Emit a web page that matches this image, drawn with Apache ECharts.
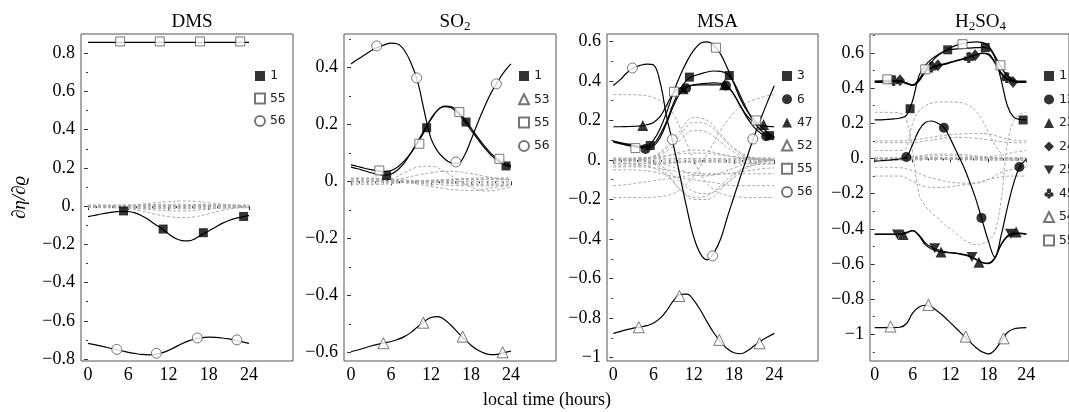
<!DOCTYPE html>
<html><head><meta charset="utf-8">
<script src="https://cdn.jsdelivr.net/npm/echarts@6/dist/echarts.min.js"></script>
<style>html,body{margin:0;padding:0;background:#fff}#c{width:1069px;height:412px}</style>
</head><body><div id="c"></div>
<script>
// ---------- shared x values ----------
const hours  = [0,1,2,3,4,5,6,7,8,9,10,11,12,13,14,15,16,17,18,19,20,21,22,23,24];
const hours2 = [0,2,4,6,8,10,12,14,16,18,20,22,24];
const xMajor = [0,6,12,18,24];
const xMinor = [1.2,2.4,3.6,4.8,7.2,8.4,9.6,10.8,13.2,14.4,15.6,16.8,19.2,20.4,21.6,22.8];

// ---------- DMS ----------
const dms_1  = [-0.055,-0.048,-0.041,-0.035,-0.030,-0.027,-0.028,-0.035,-0.05,-0.07,-0.095,-0.118,-0.145,-0.168,-0.18,-0.182,-0.17,-0.148,-0.13,-0.11,-0.09,-0.075,-0.064,-0.056,-0.05];
const dms_1_mx = [5.3,11.2,17.2,23.2], dms_1_my = [-0.025,-0.12,-0.139,-0.054];
const dms_55 = [0.857,0.857,0.857,0.857,0.857,0.857,0.857,0.857,0.857,0.857,0.857,0.857,0.857,0.857,0.857,0.857,0.857,0.857,0.857,0.857,0.857,0.857,0.857,0.857,0.857];
const dms_55_mx = [4.8,10.7,16.7,22.7], dms_55_my = [0.862,0.862,0.862,0.862];
const dms_56 = [-0.718,-0.725,-0.733,-0.741,-0.749,-0.757,-0.765,-0.771,-0.776,-0.778,-0.776,-0.768,-0.755,-0.738,-0.72,-0.705,-0.694,-0.688,-0.686,-0.687,-0.69,-0.695,-0.702,-0.71,-0.718];
const dms_56_mx = [4.3,10.2,16.3,22.2], dms_56_my = [-0.75,-0.77,-0.69,-0.70];
const dms_greys = [
 [0.002,0.002,0.003,0.005,0.01,0.018,0.024,0.027,0.025,0.018,0.01,0.005,0.003],
 [-0.003,-0.004,-0.006,-0.012,-0.025,-0.042,-0.055,-0.06,-0.055,-0.04,-0.022,-0.01,-0.005],
 [-0.002,-0.003,-0.005,-0.008,-0.014,-0.02,-0.024,-0.025,-0.022,-0.016,-0.01,-0.005,-0.003],
 [0.006,0.006,0.006,0.007,0.008,0.009,0.01,0.01,0.009,0.008,0.007,0.006,0.006],
 [-0.008,-0.008,-0.009,-0.01,-0.011,-0.012,-0.013,-0.013,-0.012,-0.011,-0.01,-0.009,-0.008],
 [0.003,0.003,0.003,0.003,0.004,0.004,0.004,0.004,0.004,0.003,0.003,0.003,0.003],
 [-0.004,-0.004,-0.004,-0.005,-0.005,-0.006,-0.006,-0.006,-0.006,-0.005,-0.005,-0.004,-0.004],
 [0,0,0,0,0,0,0,0,0,0,0,0,0],
 [0.001,0.001,0.001,0,-0.001,-0.002,-0.002,-0.002,-0.001,0,0.001,0.001,0.001]
];

// ---------- SO2 ----------
const so2_1  = [0.05,0.044,0.037,0.03,0.025,0.022,0.025,0.04,0.065,0.1,0.14,0.18,0.22,0.25,0.262,0.258,0.24,0.212,0.18,0.148,0.118,0.092,0.072,0.058,0.05];
const so2_1_mx = [5.35,11.35,17.25,23.25], so2_1_my = [0.02,0.188,0.208,0.054];
const so2_53 = [-0.598,-0.592,-0.585,-0.578,-0.572,-0.567,-0.562,-0.555,-0.545,-0.53,-0.51,-0.492,-0.478,-0.475,-0.485,-0.505,-0.53,-0.553,-0.575,-0.592,-0.603,-0.608,-0.607,-0.601,-0.596];
const so2_53_mx = [4.85,10.85,16.75,22.75], so2_53_my = [-0.568,-0.496,-0.545,-0.60];
const so2_55 = [0.058,0.052,0.046,0.041,0.037,0.035,0.038,0.05,0.072,0.1,0.135,0.175,0.218,0.25,0.264,0.262,0.246,0.22,0.188,0.155,0.124,0.098,0.078,0.063,0.055];
const so2_55_mx = [4.25,10.25,16.25,22.25], so2_55_my = [0.038,0.132,0.243,0.079];
const so2_56 = [0.412,0.428,0.443,0.458,0.47,0.479,0.485,0.482,0.46,0.415,0.35,0.245,0.15,0.105,0.08,0.065,0.063,0.09,0.145,0.205,0.26,0.31,0.35,0.385,0.412];
const so2_56_mx = [3.85,9.85,15.75,21.8], so2_56_my = [0.475,0.363,0.068,0.342];
const so2_greys = [
 [0,0,0.001,0.008,0.03,0.05,0.053,0.035,0.005,-0.02,-0.034,-0.03,-0.02],
 [0,0,0.001,0.004,0.012,0.022,0.03,0.035,0.034,0.027,0.018,0.01,0.005],
 [0,0,0,-0.001,-0.004,-0.01,-0.018,-0.025,-0.03,-0.032,-0.028,-0.02,-0.015],
 [0,0,0,0,-0.002,-0.006,-0.01,-0.013,-0.015,-0.016,-0.016,-0.015,-0.013],
 [0.012,0.012,0.011,0.008,0.004,0.003,0.004,0.006,0.009,0.011,0.012,0.012,0.012],
 [-0.012,-0.012,-0.011,-0.008,-0.004,-0.003,-0.004,-0.006,-0.009,-0.011,-0.012,-0.012,-0.012],
 [0.006,0.006,0.006,0.004,0.002,0.002,0.002,0.003,0.005,0.006,0.006,0.006,0.006],
 [-0.006,-0.006,-0.006,-0.004,-0.002,-0.002,-0.002,-0.003,-0.005,-0.006,-0.006,-0.006,-0.006],
 [0,0,0,0,0,0,0,0,0,0,0,0,0],
 [0.009,0.009,0.008,0.006,0.003,0.002,0.003,0.004,0.007,0.008,0.009,0.009,0.009]
];

// ---------- MSA ----------
const msa_3  = [0.095,0.088,0.081,0.075,0.07,0.07,0.08,0.13,0.2,0.29,0.36,0.405,0.425,0.435,0.445,0.45,0.448,0.435,0.39,0.32,0.25,0.19,0.15,0.125,0.118];
const msa_3_mx = [5.5,11.35,17.3,23.3], msa_3_my = [0.073,0.419,0.427,0.123];
const msa_6  = [0.09,0.083,0.076,0.07,0.063,0.062,0.07,0.115,0.19,0.275,0.34,0.368,0.38,0.385,0.388,0.39,0.388,0.375,0.33,0.27,0.21,0.165,0.135,0.115,0.11];
const msa_6_mx = [4.8,10.85,16.8,22.8], msa_6_my = [0.056,0.363,0.377,0.12];
const msa_47 = [0.168,0.168,0.169,0.17,0.172,0.178,0.19,0.22,0.28,0.34,0.365,0.375,0.378,0.38,0.38,0.38,0.38,0.37,0.33,0.27,0.22,0.19,0.175,0.17,0.168];
const msa_47_mx = [4.4,10.4,16.6,22.4], msa_47_my = [0.174,0.36,0.38,0.179];
const msa_52 = [-0.877,-0.868,-0.858,-0.85,-0.845,-0.838,-0.825,-0.8,-0.76,-0.71,-0.68,-0.678,-0.71,-0.76,-0.82,-0.875,-0.92,-0.955,-0.975,-0.98,-0.965,-0.94,-0.915,-0.895,-0.877];
const msa_52_mx = [3.8,9.85,15.8,21.8], msa_52_my = [-0.846,-0.688,-0.91,-0.927];
const msa_55 = [0.095,0.085,0.075,0.067,0.063,0.068,0.1,0.16,0.245,0.345,0.43,0.5,0.555,0.59,0.597,0.58,0.535,0.465,0.385,0.305,0.245,0.205,0.17,0.14,0.115];
const msa_55_mx = [3.3,9.05,15.3,21.3], msa_55_my = [0.06,0.345,0.568,0.2];
const msa_56 = [0.377,0.405,0.44,0.465,0.478,0.485,0.48,0.39,0.21,0.07,-0.09,-0.25,-0.39,-0.475,-0.505,-0.47,-0.4,-0.29,-0.185,-0.08,0.02,0.12,0.21,0.295,0.375];
const msa_56_mx = [2.85,8.8,14.8,20.8], msa_56_my = [0.465,0.103,-0.485,0.106];
const msa_greyA = [0.33,0.33,0.33,0.33,0.328,0.325,0.315,0.3,0.28,0.23,0.16,0.08,0.0,-0.07,-0.12,-0.15,-0.17,-0.18,-0.185,-0.188,-0.19,-0.19,-0.19,-0.19,-0.19];
const msa_greyB = [-0.19,-0.19,-0.19,-0.19,-0.19,-0.19,-0.188,-0.185,-0.18,-0.17,-0.15,-0.12,-0.08,-0.03,0.03,0.09,0.15,0.2,0.24,0.27,0.29,0.305,0.315,0.325,0.33];
const msa_greys = [
 [0,0,0.005,0.02,0.07,0.15,0.215,0.2,0.13,0.06,0.02,0.005,0],
 [0,0,0.004,0.015,0.06,0.13,0.19,0.18,0.12,0.055,0.018,0.005,0],
 [0,0,0.003,0.012,0.045,0.1,0.15,0.14,0.09,0.04,0.012,0.003,0],
 [0,0,0.002,0.008,0.02,0.04,0.05,0.045,0.03,0.015,0.005,0.001,0],
 [0.01,0.01,0.012,0.015,0.022,0.03,0.035,0.033,0.025,0.017,0.012,0.01,0.01],
 [0,0,-0.005,-0.02,-0.07,-0.15,-0.2,-0.2,-0.15,-0.08,-0.03,-0.008,0],
 [-0.02,-0.02,-0.025,-0.04,-0.08,-0.15,-0.19,-0.18,-0.13,-0.07,-0.035,-0.022,-0.02],
 [0,0,-0.003,-0.015,-0.05,-0.11,-0.16,-0.17,-0.14,-0.09,-0.04,-0.012,0],
 [0,0,-0.002,-0.008,-0.025,-0.05,-0.075,-0.08,-0.065,-0.04,-0.018,-0.005,0],
 [-0.13,-0.125,-0.115,-0.105,-0.095,-0.085,-0.078,-0.075,-0.072,-0.065,-0.055,-0.045,-0.04],
 [-0.05,-0.05,-0.052,-0.06,-0.075,-0.09,-0.1,-0.11,-0.12,-0.13,-0.13,-0.13,-0.13],
 [-0.035,-0.035,-0.035,-0.04,-0.05,-0.06,-0.065,-0.07,-0.07,-0.07,-0.07,-0.07,-0.07],
 [-0.03,-0.03,-0.028,-0.024,-0.018,-0.012,-0.006,-0.002,0,0,0,0,0],
 [0,0,0,0,0,0,0,0,0,0,0,0,0],
 [0.008,0.008,0.008,0.008,0.008,0.008,0.008,0.008,0.008,0.008,0.008,0.008,0.008],
 [-0.01,-0.01,-0.01,-0.01,-0.01,-0.01,-0.01,-0.01,-0.01,-0.01,-0.01,-0.01,-0.01],
 [-0.018,-0.018,-0.018,-0.017,-0.015,-0.012,-0.01,-0.01,-0.012,-0.015,-0.017,-0.018,-0.018]
];

// ---------- H2SO4 ----------
const h2_1  = [0.219,0.22,0.222,0.225,0.23,0.245,0.33,0.47,0.53,0.565,0.59,0.61,0.62,0.623,0.626,0.628,0.63,0.632,0.625,0.575,0.45,0.3,0.235,0.222,0.22];
const h2_1_mx = [5.6,11.55,17.5,23.5], h2_1_my = [0.283,0.618,0.631,0.219];
const h2_12 = [-0.015,-0.013,-0.01,-0.007,-0.003,0.007,0.08,0.16,0.205,0.213,0.2,0.175,0.11,0.035,-0.04,-0.13,-0.23,-0.35,-0.47,-0.56,-0.44,-0.28,-0.14,-0.045,-0.005];
const h2_12_mx = [5,10.95,16.9,22.9], h2_12_my = [0.008,0.175,-0.338,-0.049];
const h2_23 = [-0.43,-0.43,-0.43,-0.43,-0.432,-0.425,-0.41,-0.44,-0.49,-0.515,-0.528,-0.535,-0.537,-0.54,-0.545,-0.555,-0.575,-0.593,-0.598,-0.57,-0.49,-0.44,-0.425,-0.425,-0.43];
const h2_23_mx = [4.5,10.5,16.5,22.4], h2_23_my = [-0.433,-0.532,-0.59,-0.418];
const h2_24 = [0.432,0.433,0.435,0.438,0.44,0.43,0.415,0.44,0.49,0.515,0.528,0.535,0.545,0.555,0.565,0.578,0.59,0.6,0.595,0.55,0.48,0.448,0.436,0.432,0.432];
const h2_24_mx = [4,10,15.9,21.9], h2_24_my = [0.445,0.53,0.587,0.435];
const h2_25 = [-0.432,-0.432,-0.432,-0.432,-0.43,-0.42,-0.41,-0.435,-0.48,-0.505,-0.52,-0.53,-0.535,-0.54,-0.548,-0.558,-0.572,-0.59,-0.595,-0.565,-0.49,-0.445,-0.43,-0.428,-0.43];
const h2_25_mx = [3.6,9.5,15.4,21.5], h2_25_my = [-0.433,-0.51,-0.561,-0.428];
const h2_45 = [0.438,0.438,0.44,0.443,0.442,0.43,0.418,0.445,0.495,0.52,0.53,0.538,0.548,0.558,0.567,0.576,0.588,0.598,0.59,0.545,0.49,0.455,0.44,0.436,0.436];
const h2_45_mx = [3,9,14.9,20.9], h2_45_my = [0.443,0.52,0.574,0.46];
const h2_54 = [-0.962,-0.962,-0.962,-0.962,-0.96,-0.94,-0.88,-0.845,-0.835,-0.845,-0.87,-0.9,-0.935,-0.97,-1.005,-1.04,-1.075,-1.1,-1.112,-1.09,-1.04,-0.99,-0.97,-0.964,-0.962];
const h2_54_mx = [2.5,8.5,14.4,20.4], h2_54_my = [-0.956,-0.833,-1.013,-1.023];
const h2_55 = [0.44,0.442,0.445,0.445,0.44,0.425,0.418,0.45,0.505,0.55,0.585,0.61,0.63,0.645,0.652,0.66,0.663,0.66,0.64,0.585,0.52,0.47,0.445,0.44,0.44];
const h2_55_mx = [2,8,13.9,19.9], h2_55_my = [0.45,0.507,0.65,0.53];
const h2_greyG1 = [0.262,0.262,0.262,0.262,0.258,0.22,0.04,-0.2,-0.27,-0.31,-0.34,-0.375,-0.4,-0.43,-0.46,-0.48,-0.49,-0.485,-0.47,-0.42,-0.24,0.08,0.215,0.25,0.262];
const h2_greyG2 = [0.045,0.045,0.045,0.045,0.046,0.06,0.2,0.27,0.3,0.315,0.32,0.322,0.322,0.32,0.315,0.3,0.27,0.22,0.15,0.08,0.03,0.0,-0.01,-0.01,-0.01];
const h2_greys = [
 [0.1,0.1,0.1,0.105,0.115,0.125,0.135,0.14,0.142,0.14,0.12,0.105,0.1],
 [0.09,0.09,0.09,0.09,0.1,0.11,0.12,0.12,0.115,0.105,0.095,0.09,0.09],
 [-0.05,-0.05,-0.052,-0.07,-0.1,-0.12,-0.135,-0.14,-0.14,-0.12,-0.08,-0.06,-0.05],
 [-0.1,-0.1,-0.1,-0.13,-0.16,-0.165,-0.16,-0.15,-0.14,-0.12,-0.105,-0.1,-0.1],
 [0,0,0,0,0,0,0,0,0.005,0.01,0.02,0.035,0.045],
 [0,0,0.002,0.01,0.02,0.025,0.025,0.022,0.015,0.006,0.002,0,0],
 [0,0,0.001,0.006,0.012,0.015,0.016,0.014,0.01,0.004,0.001,0,0],
 [0.005,0.005,0.005,0.005,0.005,0.005,0.005,0.005,0.005,0.005,0.005,0.005,0.005],
 [-0.005,-0.005,-0.005,-0.005,-0.005,-0.005,-0.005,-0.005,-0.005,-0.005,-0.005,-0.005,-0.005],
 [0,0,0,0,0,0,0,0,0,0,0,0,0],
 [-0.01,-0.01,-0.01,-0.008,-0.006,-0.005,-0.005,-0.006,-0.008,-0.01,-0.01,-0.01,-0.01]
];

// ---------- layout / style (not data) ----------
const CLUB = 'path://M30,28a20,20 0 1,0 40,0a20,20 0 1,0 -40,0Z M8,62a20,20 0 1,0 40,0a20,20 0 1,0 -40,0Z M52,62a20,20 0 1,0 40,0a20,20 0 1,0 -40,0Z M45,55L36,98L64,98L55,55Z';
const SYM = {
  fsq:{symbol:'rect',size:9,fill:true}, hsq:{symbol:'rect',size:9,fill:false},
  fci:{symbol:'circle',size:10,fill:true}, hci:{symbol:'circle',size:10,fill:false},
  ftr:{symbol:'triangle',size:11,fill:true}, htr:{symbol:'triangle',size:11,fill:false},
  fdi:{symbol:'diamond',size:[10,12],fill:true}, fdt:{symbol:'path://M0,0L10,0L5,9Z',size:[11,10],fill:true},
  fcl:{symbol:CLUB,size:11,fill:true}
};
const panels = [
 {key:'DMS', title:'{n|DMS}', left:81, width:212, xr:[-1.04,30.56], yr:[-0.8105,0.901],
  yt:[-0.8,-0.6,-0.4,-0.2,0,0.2,0.4,0.6,0.8], ym:[-0.7,-0.5,-0.3,-0.1,0.1,0.3,0.5,0.7],
  legLeft:254, legGap:9.5, greys:dms_greys, greysH:[],
  curves:[{n:'1',y:dms_1,mx:dms_1_mx,my:dms_1_my,s:'fsq'},{n:'55',y:dms_55,mx:dms_55_mx,my:dms_55_my,s:'hsq'},{n:'56',y:dms_56,mx:dms_56_mx,my:dms_56_my,s:'hci'}]},
 {key:'SO2', title:'{n|SO}{s|2}', left:344, width:212, xr:[-1.05,30.75], yr:[-0.6305,0.517],
  yt:[-0.6,-0.4,-0.2,0,0.2,0.4], ym:[-0.5,-0.3,-0.1,0.1,0.3,0.5],
  legLeft:518, legGap:10.3, greys:so2_greys, greysH:[],
  curves:[{n:'1',y:so2_1,mx:so2_1_mx,my:so2_1_my,s:'fsq'},{n:'53',y:so2_53,mx:so2_53_mx,my:so2_53_my,s:'htr'},{n:'55',y:so2_55,mx:so2_55_mx,my:so2_55_my,s:'hsq'},{n:'56',y:so2_56,mx:so2_56_mx,my:so2_56_my,s:'hci'}]},
 {key:'MSA', title:'{n|MSA}', left:607, width:211, xr:[-0.94,30.52], yr:[-1.0167,0.637],
  yt:[-1,-0.8,-0.6,-0.4,-0.2,0,0.2,0.4,0.6], ym:[-0.9,-0.7,-0.5,-0.3,-0.1,0.1,0.3,0.5],
  legLeft:781, legGap:10.2, greys:msa_greys, greysH:[msa_greyA,msa_greyB],
  curves:[{n:'3',y:msa_3,mx:msa_3_mx,my:msa_3_my,s:'fsq'},{n:'6',y:msa_6,mx:msa_6_mx,my:msa_6_my,s:'fci'},{n:'47',y:msa_47,mx:msa_47_mx,my:msa_47_my,s:'ftr'},{n:'52',y:msa_52,mx:msa_52_mx,my:msa_52_my,s:'htr'},{n:'55',y:msa_55,mx:msa_55_mx,my:msa_55_my,s:'hsq'},{n:'56',y:msa_56,mx:msa_56_mx,my:msa_56_my,s:'hci'}]},
 {key:'H2SO4', title:'{n|H}{s|2}{n|SO}{s|4}', left:870, width:211, xr:[-0.75,30.76], yr:[-1.152,0.708],
  yt:[-1,-0.8,-0.6,-0.4,-0.2,0,0.2,0.4,0.6], ym:[-1.1,-0.9,-0.7,-0.5,-0.3,-0.1,0.1,0.3,0.5,0.7],
  legLeft:1043, legGap:10.5, greys:h2_greys, greysH:[h2_greyG1,h2_greyG2],
  curves:[{n:'1',y:h2_1,mx:h2_1_mx,my:h2_1_my,s:'fsq'},{n:'12',y:h2_12,mx:h2_12_mx,my:h2_12_my,s:'fci'},{n:'23',y:h2_23,mx:h2_23_mx,my:h2_23_my,s:'ftr'},{n:'24',y:h2_24,mx:h2_24_mx,my:h2_24_my,s:'fdi'},{n:'25',y:h2_25,mx:h2_25_mx,my:h2_25_my,s:'fdt'},{n:'45',y:h2_45,mx:h2_45_mx,my:h2_45_my,s:'fcl'},{n:'54',y:h2_54,mx:h2_54_mx,my:h2_54_my,s:'htr'},{n:'55',y:h2_55,mx:h2_55_mx,my:h2_55_my,s:'hsq'}]}
];

const SERIF = '"Liberation Serif","Times New Roman",serif';
const TOP = 34, HEIGHT = 327;
function fmtY(v){
  if (Math.abs(v) < 1e-9) return '0.';
  if (Math.abs(Math.abs(v) - 1) < 1e-9) return (v < 0 ? '\u2212' : '') + '1';
  return (v < 0 ? '\u2212' : '') + Math.abs(v).toFixed(1);
}
const zip = (xs, ys) => xs.map((x, i) => [x, ys[i]]);

const grid = [], xAxis = [], yAxis = [], series = [], legend = [], title = [];
panels.forEach((p, i) => {
  grid.push({left:p.left, top:TOP, width:p.width, height:HEIGHT, show:true, borderColor:'#555', borderWidth:1, backgroundColor:'transparent'});
  const xBase = {type:'value', gridIndex:i, min:p.xr[0], max:p.xr[1], position:'bottom', axisLine:{show:false}, splitLine:{show:false}};
  xAxis.push(Object.assign({}, xBase, {
    axisTick:{show:true, inside:false, length:4, customValues:xMajor, lineStyle:{color:'#333'}},
    axisLabel:{show:true, customValues:xMajor, margin:5, fontFamily:SERIF, fontSize:18, color:'#000'}}));
  xAxis.push(Object.assign({}, xBase, {
    axisTick:{show:true, inside:false, length:2, customValues:xMinor, lineStyle:{color:'#333'}},
    axisLabel:{show:false}}));
  const yBase = {type:'value', gridIndex:i, min:p.yr[0], max:p.yr[1], position:'left', axisLine:{show:false}, splitLine:{show:false}};
  const yMain = Object.assign({}, yBase, {
    axisTick:{show:true, inside:false, length:4, customValues:p.yt, lineStyle:{color:'#333'}},
    axisLabel:{show:true, customValues:p.yt, formatter:fmtY, margin:6, fontFamily:SERIF, fontSize:18, color:'#000'}});
  if (i === 0) {
    Object.assign(yMain, {name:'\u2202\u03B7/\u2202\u03F1', nameLocation:'middle', nameGap:52, nameRotate:90,
      nameTextStyle:{fontFamily:SERIF, fontStyle:'italic', fontSize:19, color:'#000'}});
  }
  yAxis.push(yMain);
  yAxis.push(Object.assign({}, yBase, {
    axisTick:{show:true, inside:false, length:2, customValues:p.ym, lineStyle:{color:'#333'}},
    axisLabel:{show:false}}));

  const xi = 2*i, yi = 2*i;
  const greyStyle = {color:'#aaa', width:1, type:[3,2]};
  p.greys.forEach(g => series.push({type:'line', xAxisIndex:xi, yAxisIndex:yi, data:zip(hours2, g), symbol:'none', smooth:0.4, silent:true, lineStyle:greyStyle, z:1}));
  p.greysH.forEach(g => series.push({type:'line', xAxisIndex:xi, yAxisIndex:yi, data:zip(hours, g), symbol:'none', smooth:0.4, silent:true, lineStyle:greyStyle, z:1}));
  p.curves.forEach(c => series.push({type:'line', xAxisIndex:xi, yAxisIndex:yi, data:zip(hours, c.y), symbol:'none', smooth:0.4, silent:true, lineStyle:{color:'#000', width:1.2}, z:2}));
  const names = [];
  p.curves.forEach(c => {
    const s = SYM[c.s];
    const nm = p.key + '|' + c.n;
    names.push(nm);
    series.push({type:'scatter', name:nm, xAxisIndex:xi, yAxisIndex:yi, data:zip(c.mx, c.my),
      symbol:s.symbol, symbolSize:s.size, silent:true,
      itemStyle: s.fill ? {color:'#000'} : {color:'#fff', borderColor:'#555', borderWidth:1}, z:3});
  });
  legend.push({left:p.legLeft, top:69, orient:'vertical', itemWidth:10, itemHeight:10, itemGap:p.legGap - 1,
    selectedMode:false, padding:0, data:names, formatter:n => n.split('|')[1],
    textStyle:{fontFamily:'"DejaVu Sans Mono",monospace', fontSize:13, color:'#222', lineHeight:14}});
  title.push({text:p.title, left:p.left + p.width/2, top:6, textAlign:'center',
    textStyle:{fontFamily:SERIF, fontSize:19, fontWeight:'normal', color:'#000',
      rich:{n:{fontFamily:SERIF, fontSize:19, lineHeight:22, verticalAlign:'middle'},
            s:{fontFamily:SERIF, fontSize:13, lineHeight:8, verticalAlign:'bottom'}}}});
});

const chart = echarts.init(document.getElementById('c'));
chart.setOption({
  animation:false,
  backgroundColor:'#fff',
  title, grid, xAxis, yAxis, legend, series,
  graphic:[{type:'text', x:547, y:400, style:{text:'local time (hours)', fontFamily:SERIF, fontSize:18, fill:'#000', align:'center', verticalAlign:'middle', textAlign:'center', textVerticalAlign:'middle'}}]
});
</script></body></html>
